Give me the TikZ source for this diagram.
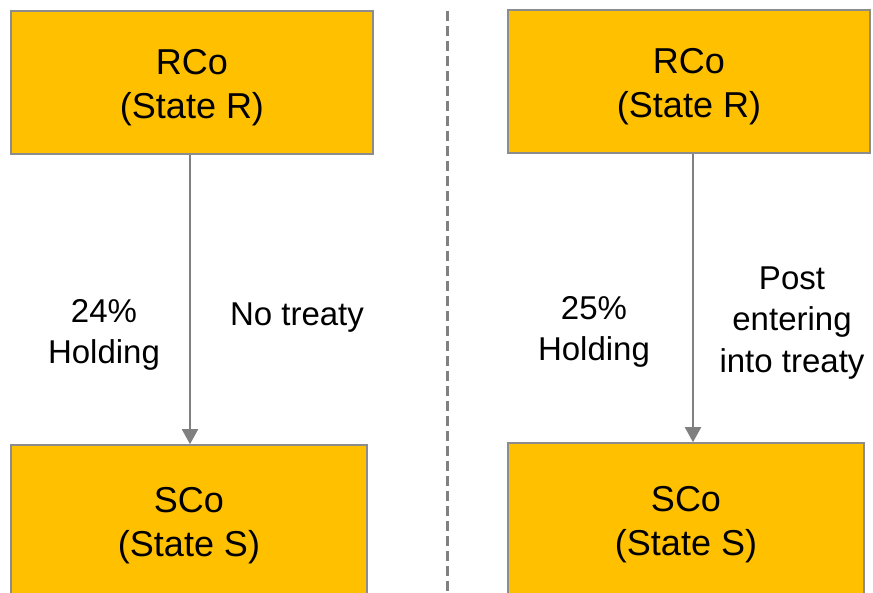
\documentclass[tikz,border=0pt]{standalone}
\usepackage{fontspec}
\setmainfont{Liberation Sans}
\usetikzlibrary{arrows.meta}
\definecolor{boxgold}{HTML}{FFC000}
\definecolor{boxedge}{HTML}{8C8C8C}
\definecolor{linkgray}{HTML}{808080}
\tikzset{
  entity/.style={draw=boxedge, line width=1.6pt, fill=boxgold, rectangle,
    inner sep=0pt},
  entitytext/.style={align=center, inner sep=0pt,
    font=\fontsize{36}{44}\selectfont},
  holding/.style={draw=linkgray, line width=2pt,
    -{Triangle[width=16pt,length=15pt]}},
  note/.style={align=center, inner sep=0pt, font=\fontsize{33}{41.5}\selectfont},
  divider/.style={draw=linkgray, line width=3pt, dash pattern=on 10pt off 5pt}
}
\begin{document}
\begin{tikzpicture}[x=1pt,y=-1pt]
  \useasboundingbox (0,0) rectangle (873,593);
  \clip (0,0) rectangle (873,593);
  \fill[white] (0,0) rectangle (873,593);

  % left panel: no treaty
  \node[entity, minimum width=362pt, minimum height=143pt] (lt) at (192,82.5) {};
  \node[entitytext] (ltt) at (192,88) {RCo\\(State R)};
  \node[entity, minimum width=356pt, minimum height=160pt] (lb) at (189,525) {};
  \node[entitytext] (lbt) at (189,526) {SCo\\(State S)};
  \coordinate (lx) at (190,0);
  \draw[holding] (lt.south -| lx) -- (lb.north -| lx);
  \node[note] (lpct) at (104,335) {24\%\\Holding};
  \node[note] (lnt) at (297,318) {No treaty};

  % separator
  \coordinate (dtop) at (447,11);
  \coordinate (dbot) at (447,600);
  \draw[divider] (dtop) -- (dbot);

  % right panel: after the treaty
  \node[entity, minimum width=362pt, minimum height=143pt] (rt) at (689,81.5) {};
  \node[entitytext] (rtt) at (689,87) {RCo\\(State R)};
  \node[entity, minimum width=356pt, minimum height=162pt] (rb) at (686,524) {};
  \node[entitytext] (rbt) at (686,525) {SCo\\(State S)};
  \coordinate (rx) at (693,0);
  \draw[holding] (rt.south -| rx) -- (rb.north -| rx);
  \node[note] (rpct) at (594,332) {25\%\\Holding};
  \node[note] (rtr) at (792,323) {Post\\entering\\into treaty};
\end{tikzpicture}
\end{document}
